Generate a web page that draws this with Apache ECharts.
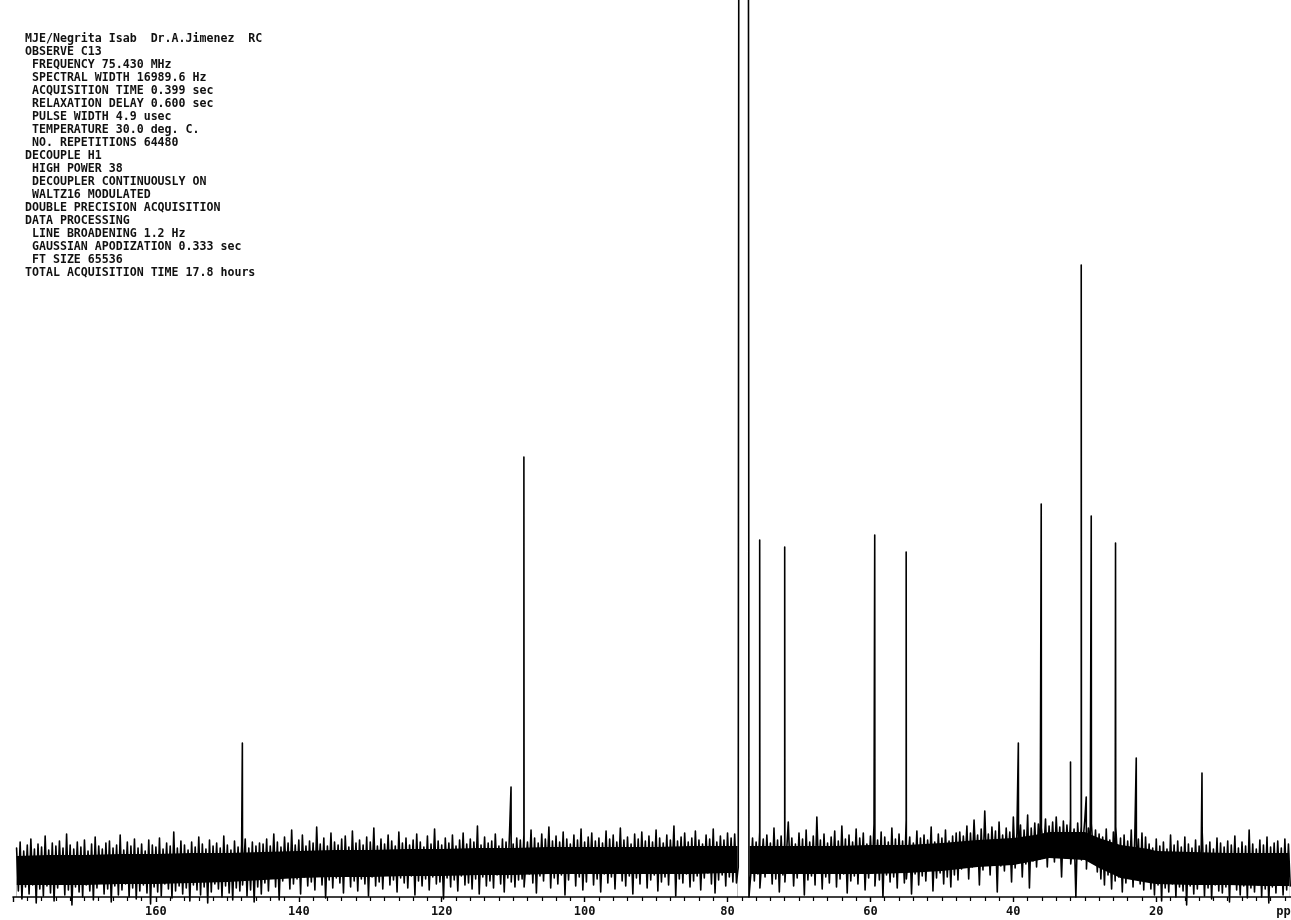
<!DOCTYPE html>
<html><head><meta charset="utf-8">
<script src="https://cdn.jsdelivr.net/npm/echarts@6/dist/echarts.min.js"></script>
<style>html,body{margin:0;padding:0;background:#fff;overflow:hidden;width:1291px;height:920px}#c{width:1301px;height:920px}</style>
</head><body><div id="c"></div>
<script>
// ---- header text (acquisition parameters) ----
const headerLines = [
  'MJE/Negrita Isab  Dr.A.Jimenez  RC',
  'OBSERVE C13',
  ' FREQUENCY 75.430 MHz',
  ' SPECTRAL WIDTH 16989.6 Hz',
  ' ACQUISITION TIME 0.399 sec',
  ' RELAXATION DELAY 0.600 sec',
  ' PULSE WIDTH 4.9 usec',
  ' TEMPERATURE 30.0 deg. C.',
  ' NO. REPETITIONS 64480',
  'DECOUPLE H1',
  ' HIGH POWER 38',
  ' DECOUPLER CONTINUOUSLY ON',
  ' WALTZ16 MODULATED',
  'DOUBLE PRECISION ACQUISITION',
  'DATA PROCESSING',
  ' LINE BROADENING 1.2 Hz',
  ' GAUSSIAN APODIZATION 0.333 sec',
  ' FT SIZE 65536',
  'TOTAL ACQUISITION TIME 17.8 hours'
];

// ---- axis ----
const ppmMin = 0, ppmMax = 180, ppmTickStep = 20;
const unitLabel = 'ppm';

// ---- noise excursions (estimated from the trace), every 0.5 ppm from 179.5 ----
const noiseStartPpm = 179.5;
const noiseStep = 0.5;
const noiseHi = [
  // 179.5 .. 145.5
  49,55,46,52,58,48,53,50,61,47,54,51,56,49,63,52,48,55,50,57,46,53,60,51,48,54,56,49,52,62,
  47,55,51,58,49,53,46,57,52,50,59,48,54,51,65,49,56,52,47,55,50,60,53,48,57,51,54,49,61,52,
  47,56,50,53,58,49,55,51,54,
  // 145 .. 109.5
  53,58,51,63,55,50,60,54,67,52,57,62,51,56,54,70,53,59,51,64,55,52,58,61,50,66,54,57,52,60,
  55,69,51,58,53,62,56,51,65,54,59,52,57,63,55,50,61,53,68,56,52,59,54,62,51,57,64,53,58,55,
  71,52,60,54,56,63,51,58,55,66,53,59,
  // 109 .. 79
  57,62,55,67,59,54,63,58,70,56,61,55,65,58,53,62,57,68,55,60,64,56,59,54,66,58,62,55,69,57,
  60,53,63,58,65,56,61,55,67,59,54,62,57,71,56,60,64,55,59,66,57,53,62,58,68,55,61,57,64,59,63,
  // 78.5 .. 77.0 (solvent region)
  30,null,null,0,
  // 76.5 .. 48
  59,55,65,58,62,54,69,57,61,56,75,59,53,64,58,67,55,61,80,57,63,54,60,66,56,71,58,62,55,68,
  59,64,53,61,73,57,65,60,55,69,58,63,56,77,60,54,66,59,62,57,70,55,63,59,67,56,61,64,
  // 47.5 .. 37
  65,61,71,64,77,62,68,86,63,70,66,75,62,69,65,80,64,72,67,82,69,74,
  // 36.5 .. 28.5
  73,69,78,71,75,80,70,76,72,78,68,74,71,77,69,73,67,
  // 28 .. 21.5
  63,60,68,57,65,70,59,62,56,67,61,58,64,60,
  // 21 .. 1.5
  53,49,58,51,55,48,62,52,56,50,60,53,49,57,51,65,52,55,48,59,54,50,56,52,61,49,55,51,67,53,
  48,57,52,60,50,54,56,49,58,53
];
const noiseLo = [
  6,-2,10,3,12,-6,8,1,11,4,-4,9,13,2,7,-8,10,5,0,12,6,-3,9,14,3,8,-5,11,2,7,
  13,0,9,-2,6,12,4,-7,10,5,1,13,8,-1,6,11,3,9,-4,12,7,2,10,-6,5,13,8,0,11,4,
  -3,9,6,12,1,7,-5,10,3,
  14,6,19,10,-3,16,21,8,13,18,3,20,11,15,7,22,12,-1,17,9,19,14,4,21,10,16,6,18,13,1,
  20,11,15,8,22,12,17,5,19,14,9,21,2,16,11,18,7,20,13,15,-2,19,10,17,6,21,12,14,8,18,
  3,20,11,16,9,22,13,5,19,15,10,17,
  18,10,23,14,4,21,16,25,9,19,13,22,2,17,24,11,20,7,15,26,12,18,5,23,14,20,8,25,16,11,
  21,3,19,13,24,9,17,22,6,15,20,12,26,1,18,14,23,10,16,21,7,19,24,13,4,17,22,11,20,15,14,
  null,null,null,22,
  16,23,9,20,26,13,18,5,22,15,27,11,19,24,2,17,21,12,25,8,20,14,28,10,18,23,4,16,21,13,
  26,7,19,24,11,17,0,22,15,20,9,25,14,18,3,23,12,21,16,27,6,19,24,13,20,10,22,17,
  28,34,18,30,36,12,27,33,22,37,5,31,26,35,15,29,38,20,33,9,36,30,
  38,44,30,41,35,43,20,39,42,33,0,40,37,28,42,34,25,
  18,12,22,8,16,20,5,14,19,10,21,13,7,17,
  8,2,12,-4,9,5,13,0,10,6,-8,11,3,8,14,1,9,-2,12,6,4,10,-5,13,7,2,11,-1,9,5,
  12,0,8,-6,10,4,13,2,7,11
];

// ---- solid noise core (lower / upper edge) ----
const corePpm = [179.5,175,170,165,160,155,150,145,140,135,130,125,120,115,110,105,100,95,90,85,80,78.6,78.0,76.9,75,70,65,60,55,50,45,40,37,35,30,28,25,21,20,15,10,5,1.4];
const coreLo  = [12,12,12,13,13,14,15,17,19,20,20,21,21,22,22,23,23,23,23,23,24,24,null,23,23,23,23,23,24,26,30,32,36,39,37,29,19,14,13,12,12,11,11];
const coreHi  = [41,42,42,43,43,44,44,45,46,47,47,48,48,49,49,50,50,50,50,51,51,51,null,51,51,51,51,52,52,54,57,59,62,65,65,59,52,48,46,45,44,44,44];

// ---- resolved peaks [ppm, height] ----
const peaks = [
  [147.9,154],[110.3,110],[108.5,440],[75.5,357],[72.0,350],[59.4,362],[55.0,345],
  [39.3,154],[36.1,393],[32.0,135],[30.5,632],[29.8,100],[29.1,381],[25.7,354],
  [22.8,139],[13.6,124]
];
// off-scale solvent signal (CDCl3): left and right flanks
const solvent = [[78.4,1300],[77.1,1300]];

// ---- build trace ----
let pts = [];
for (let i = 0; i < noiseHi.length; i++) {
  const p = noiseStartPpm - i * noiseStep;
  if (noiseHi[i] !== null) pts.push({p: p, v: noiseHi[i], k: 'n'});
  if (noiseLo[i] !== null && noiseLo[i] !== undefined) pts.push({p: p - noiseStep / 2, v: noiseLo[i], k: 'n'});
}
peaks.forEach(function (d) { pts.push({p: d[0], v: d[1], k: 'pk'}); });
solvent.forEach(function (d) { pts.push({p: d[0], v: d[1], k: 's'}); });
pts.sort(function (a, b) { return b.p - a.p; });

const trace = [];
for (let j = 0; j < pts.length; j++) {
  const q = pts[j];
  if (q.k === 'pk') {
    let a = j - 1; while (a >= 0 && pts[a].k !== 'n') a--;
    let b = j + 1; while (b < pts.length && pts[b].k !== 'n') b++;
    const lv = a >= 0 ? pts[a].v : 30;
    const rv = b < pts.length ? pts[b].v : 30;
    trace.push([q.p + 0.03, lv]);
    trace.push([q.p, q.v]);
    trace.push([q.p - 0.03, rv]);
  } else {
    trace.push([q.p, q.v]);
  }
}

const coreTop = corePpm.map(function (p, i) { return [p, coreHi[i] === null ? '-' : coreHi[i]]; });
const coreBottom = corePpm.map(function (p, i) { return [p, coreLo[i] === null ? '-' : coreLo[i]]; });

const chart = echarts.init(document.getElementById('c'), null, {renderer: 'canvas'});
chart.setOption({
  animation: false,
  backgroundColor: '#ffffff',
  title: {
    text: headerLines.join('\n'),
    left: 25, top: 32, padding: 0,
    textStyle: {
      fontFamily: 'DejaVu Sans Mono', fontWeight: 'bold', fontSize: 11.6,
      lineHeight: 13, color: '#111'
    }
  },
  grid: {left: 13, right: 0, top: 0, bottom: 23, containLabel: false},
  xAxis: {
    type: 'value', inverse: true, min: ppmMin, max: ppmMax, interval: ppmTickStep, z: 10,
    axisLine: {onZero: false, lineStyle: {color: '#000', width: 1.6}},
    axisTick: {show: true, inside: false, length: 5, lineStyle: {color: '#000', width: 1.4}},
    minorTick: {show: true, splitNumber: 10, length: 4, lineStyle: {color: '#000', width: 1.2}},
    splitLine: {show: false},
    axisLabel: {
      margin: 9, color: '#111', fontFamily: 'DejaVu Sans Mono', fontWeight: 'bold', fontSize: 12,
      showMinLabel: true, showMaxLabel: true,
      formatter: function (v) {
        if (v === ppmMax) return '';
        if (v === ppmMin) return '{u|' + unitLabel + '}';
        return String(v);
      },
      rich: {u: {fontFamily: 'DejaVu Sans Mono', fontWeight: 'bold', fontSize: 12, color: '#111', padding: [0, 24, 0, 0]}}
    }
  },
  yAxis: {type: 'value', min: 0, max: 897, show: false},
  series: [
    {type: 'line', data: coreTop, symbol: 'none', silent: true, z: 1, connectNulls: false,
     lineStyle: {opacity: 0}, areaStyle: {color: '#000', opacity: 1, origin: 'start'}},
    {type: 'line', data: coreBottom, symbol: 'none', silent: true, z: 1, connectNulls: false,
     lineStyle: {opacity: 0}, areaStyle: {color: '#fff', opacity: 1, origin: 'start'}},
    {type: 'line', data: trace, symbol: 'none', clip: false, sampling: null, z: 3,
     lineStyle: {color: '#000', width: 1.6, join: 'round', cap: 'round'}, silent: true}
  ]
});
</script>
</body></html>
